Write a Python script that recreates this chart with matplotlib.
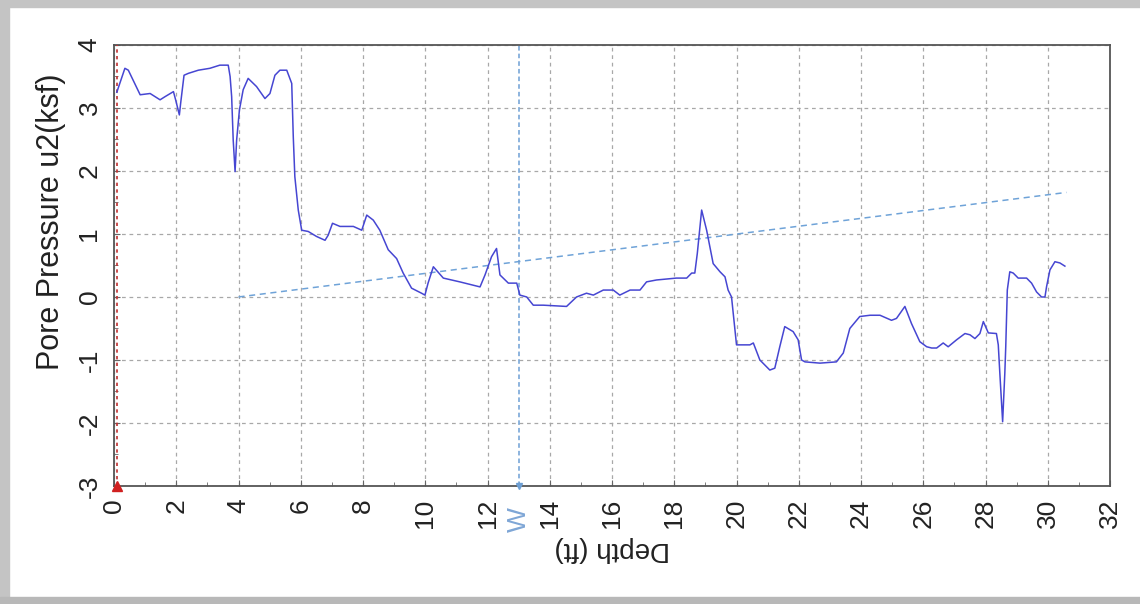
"""
Pore pressure u2 versus depth from a CPT sounding,
with the hydrostatic line and water table marker.
"""

import matplotlib.pyplot as plt
from matplotlib.patches import Rectangle

plt.rcParams["font.family"] = ["Liberation Sans", "DejaVu Sans"]
plt.rcParams["axes.unicode_minus"] = False

# Measured pore pressure u2 (ksf) against depth (ft)
depth = [0.09, 0.35, 0.46, 0.84, 1.16, 1.48, 1.64, 1.91, 1.98, 2.10, 2.14, 2.25,
         2.39, 2.71, 3.08, 3.40, 3.67, 3.73, 3.78, 3.83, 3.89, 3.94, 4.03, 4.15,
         4.31, 4.58, 4.85, 5.01, 5.17, 5.33, 5.55, 5.71, 5.76, 5.81, 5.92, 6.03,
         6.24, 6.51, 6.78, 6.88, 7.02, 7.26, 7.69, 7.96, 8.12, 8.33, 8.54, 8.81,
         9.08, 9.29, 9.56, 9.88, 9.99, 10.09, 10.26, 10.58, 11.11, 11.76, 11.92,
         12.13, 12.29, 12.40, 12.67, 12.94, 13.04, 13.26, 13.47, 13.79, 14.54,
         14.86, 15.18, 15.40, 15.72, 16.04, 16.25, 16.58, 16.90, 17.11, 17.43,
         18.07, 18.40, 18.56, 18.66, 18.74, 18.88, 19.04, 19.25, 19.47, 19.63,
         19.73, 19.84, 20.00, 20.43, 20.54, 20.75, 21.07, 21.23, 21.39, 21.55,
         21.82, 21.98, 22.09, 22.20, 22.68, 23.21, 23.43, 23.64, 23.96, 24.29,
         24.61, 24.98, 25.14, 25.41, 25.62, 25.89, 26.11, 26.27, 26.43, 26.64,
         26.80, 27.07, 27.34, 27.50, 27.66, 27.82, 27.93, 28.09, 28.35, 28.41,
         28.46, 28.55, 28.62, 28.65, 28.70, 28.78, 28.89, 29.05, 29.32, 29.48,
         29.64, 29.80, 29.91, 29.96, 30.07, 30.23, 30.39, 30.55]
u2 = [3.25, 3.63, 3.60, 3.21, 3.23, 3.13, 3.18, 3.26, 3.13, 2.89, 3.07, 3.52,
      3.55, 3.60, 3.63, 3.68, 3.68, 3.50, 3.18, 2.49, 1.99, 2.49, 2.97, 3.29,
      3.47, 3.34, 3.15, 3.23, 3.52, 3.60, 3.60, 3.39, 2.54, 1.91, 1.38, 1.06,
      1.04, 0.96, 0.90, 0.98, 1.17, 1.12, 1.12, 1.06, 1.30, 1.22, 1.06, 0.75,
      0.61, 0.38, 0.14, 0.06, 0.03, 0.22, 0.48, 0.30, 0.24, 0.16, 0.35,
      0.64, 0.77, 0.35, 0.22, 0.22, 0.03, 0.00, -0.13, -0.13, -0.15,
      0.00, 0.06, 0.03, 0.11, 0.11, 0.03, 0.11, 0.11, 0.24, 0.27,
      0.30, 0.30, 0.38, 0.38, 0.69, 1.38, 1.06, 0.53, 0.40, 0.32,
      0.11, 0.00, -0.76, -0.76, -0.73, -1.00, -1.16, -1.13, -0.79, -0.47,
      -0.55, -0.68, -1.00, -1.03, -1.05, -1.03, -0.89, -0.50, -0.31, -0.29,
      -0.29, -0.37, -0.34, -0.15, -0.42, -0.71, -0.79, -0.81, -0.81, -0.73,
      -0.79, -0.68, -0.58, -0.60, -0.66, -0.58, -0.39, -0.57, -0.58, -0.76,
      -1.21, -1.98, -1.21, -0.79, 0.11, 0.40, 0.38, 0.30, 0.30, 0.22,
      0.08, 0.00, 0.00, 0.16, 0.43, 0.56, 0.54, 0.49]

# Hydrostatic line end points
hydro_depth = [4.0, 30.6]
hydro_u = [0.0, 1.66]

water_table = 13.0
start_depth = 0.1

fig = plt.figure(figsize=(11.4, 6.04), dpi=100)
ax = fig.add_axes([0.1, 0.1954, 0.8737, 0.7301])

# Grey frame round the picture
fig.patches.append(Rectangle((0, 0.988), 1, 0.012, transform=fig.transFigure,
                             color="#c4c4c4", zorder=0))
fig.patches.append(Rectangle((0, 0), 0.008, 1, transform=fig.transFigure,
                             color="#c4c4c4", zorder=0))
fig.patches.append(Rectangle((0, 0), 1, 0.011, transform=fig.transFigure,
                             color="#b8b8b8", zorder=0))

ax.plot(depth, u2, color="#4646d2", lw=1.1, zorder=4)
ax.plot(hydro_depth, hydro_u, color="#6fa3d8", lw=1.1, ls=(0, (4, 3)), zorder=3)

# Water table marker
ax.axvline(water_table, color="#6d9fd4", lw=1.1, ls=(0, (3, 2)), zorder=3)
ax.plot([water_table], [-3], marker="v", color="#6d9fd4", ms=5, clip_on=False, zorder=5)
ax.text(water_table, -3.33, "W", rotation=90, color="#7ea6d6", fontsize=19,
        ha="center", va="top")

# Start of sounding
ax.axvline(start_depth, color="#c03030", lw=1.2, ls=(0, (2, 2)), zorder=3)
ax.plot([start_depth], [-3], marker="^", color="#d02020", ms=7, clip_on=False, zorder=5)

ax.set_xlim(0, 32)
ax.set_ylim(-3, 4)
ax.set_xticks(range(0, 33, 2))
ax.set_xticks(range(1, 33, 2), minor=True)
ax.set_yticks(range(-3, 5))
ax.set_yticks([v + 0.5 for v in range(-3, 4)], minor=True)

ax.grid(True, which="major", color="#a8a8a8", ls=(0, (3, 3)), lw=0.9)
ax.tick_params(which="both", direction="in", colors="#666666", labelcolor="#222222")
ax.tick_params(which="major", length=4, labelsize=19, pad=9)
ax.tick_params(which="minor", length=3)
ax.tick_params(axis="both", labelrotation=90)
for lab in ax.get_yticklabels():
    lab.set_va("center")
for spine in ax.spines.values():
    spine.set_color("#555555")
    spine.set_linewidth(1.3)

ax.set_ylabel("Pore Pressure u2(ksf)", fontsize=22, color="#222222")
ax.yaxis.set_label_coords(-0.048, 0.6)
ax.set_xlabel("Depth (ft)", fontsize=20, color="#222222", rotation=180, labelpad=6)

fig.savefig("out.png", dpi=100, facecolor="white")
